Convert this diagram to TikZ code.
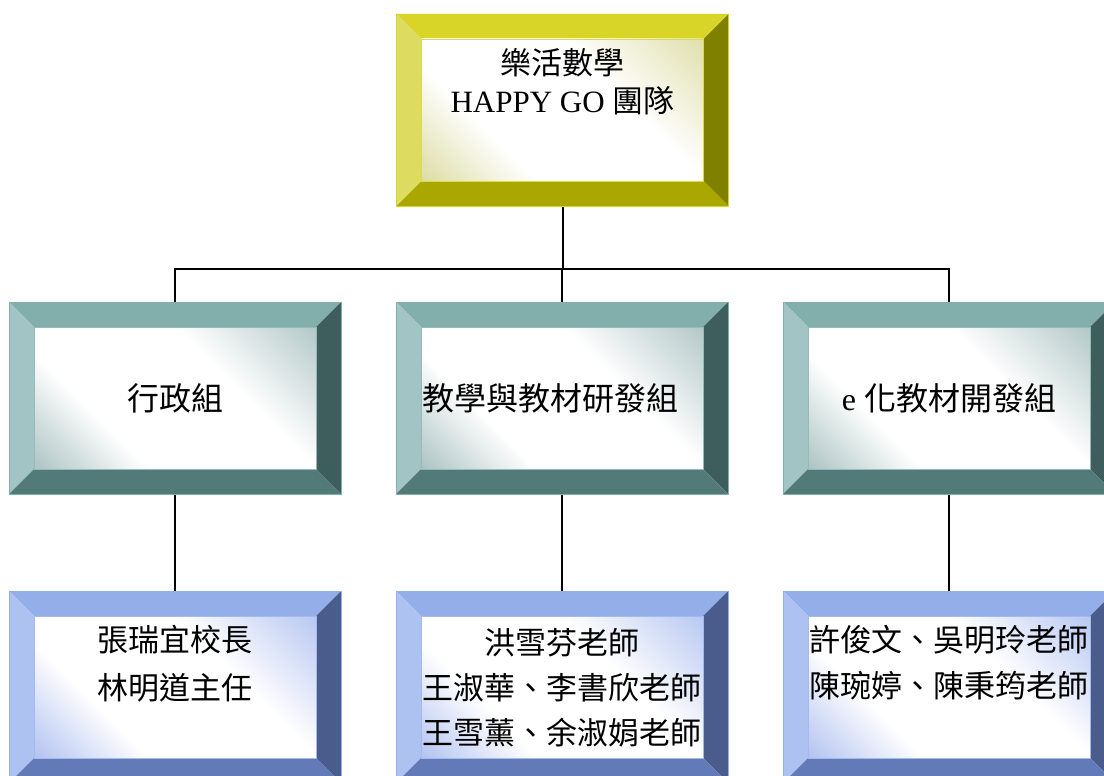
\documentclass[tikz,border=0pt]{standalone}
\usepackage{fontspec}
\setmainfont{Liberation Serif}
\newfontfamily\cjk{Noto Sans CJK TC}
\newfontfamily\lat{Liberation Serif}
\usetikzlibrary{calc}
\definecolor{yTop}{RGB}{216,212,40}
\definecolor{yLeft}{RGB}{222,220,96}
\definecolor{yRight}{RGB}{128,128,0}
\definecolor{yBot}{RGB}{170,168,0}
\definecolor{yTint}{RGB}{196,194,96}
\definecolor{tTop}{RGB}{130,174,172}
\definecolor{tLeft}{RGB}{162,196,196}
\definecolor{tRight}{RGB}{62,94,94}
\definecolor{tBot}{RGB}{82,122,120}
\definecolor{tTint}{RGB}{110,150,150}
\definecolor{bTop}{RGB}{148,174,234}
\definecolor{bLeft}{RGB}{174,194,242}
\definecolor{bRight}{RGB}{74,92,140}
\definecolor{bBot}{RGB}{98,122,184}
\definecolor{bTint}{RGB}{120,150,230}
\pgfdeclareverticalshading{yshade}{100bp}{color(0bp)=(yTint); color(34bp)=(white); color(62bp)=(white); color(100bp)=(yTint!85!white)}
\pgfdeclareverticalshading{tshade}{100bp}{color(0bp)=(tTint); color(34bp)=(white); color(62bp)=(white); color(100bp)=(tTint!85!white)}
\pgfdeclareverticalshading{bshade}{100bp}{color(0bp)=(bTint); color(34bp)=(white); color(62bp)=(white); color(100bp)=(bTint!85!white)}
\tikzset{
  boxnode/.style={rectangle, minimum width=332pt, minimum height=192pt, inner sep=0pt, outer sep=0pt},
  conn/.style={draw=black, line width=2pt},
  txt/.style={font=\cjk, align=center, inner sep=0pt, text=black}
}
\newcommand{\bevbox}[3]{%
  \node[boxnode] (#1) at (#2) {};
  \fill[fill=#3Top] (#1.north west) -- (#1.north east) -- ($(#1.north east)+(-25,25)$) -- ($(#1.north west)+(25,25)$) -- cycle;
  \fill[fill=#3Left] (#1.north west) -- ($(#1.north west)+(25,25)$) -- ($(#1.south west)+(25,-25)$) -- (#1.south west) -- cycle;
  \fill[fill=#3Right] (#1.north east) -- (#1.south east) -- ($(#1.south east)+(-25,-25)$) -- ($(#1.north east)+(-25,25)$) -- cycle;
  \fill[fill=#3Bot] (#1.south west) -- (#1.south east) -- ($(#1.south east)+(-25,-25)$) -- ($(#1.south west)+(25,-25)$) -- cycle;
  \shade[shading=#3shade, shading angle=-45] ($(#1.north west)+(25,25)$) rectangle ($(#1.south east)+(-25,-25)$);
  \draw[#3Top!85!white, line width=0.8pt] ($(#1.north west)+(25,25)$) rectangle ($(#1.south east)+(-25,-25)$);
  \draw[#3Top, line width=0.8pt] (#1.north west) rectangle (#1.south east);
}
\begin{document}
\begin{tikzpicture}[x=1pt, y=-1pt]
\useasboundingbox (0,0) rectangle (1104,776);
\clip (0,0) rectangle (1104,776);
\fill[white] (0,0) rectangle (1104,776);
\coordinate (bus) at (0,269);
% connectors
\node[boxnode] (top) at (562.5,110) {};
\node[boxnode] (m1) at (175,398) {};
\node[boxnode] (m2) at (562,398) {};
\node[boxnode] (m3) at (949,398) {};
\node[boxnode] (b1) at (175,687) {};
\node[boxnode] (b2) at (562,687) {};
\node[boxnode] (b3) at (949,687) {};
\draw[conn] (top.south) -- (top.south |- bus);
\draw[conn] (m1.north) |- (m3.north |- bus) -- (m3.north);
\draw[conn] (m2.north) -- (m2.north |- bus);
\draw[conn] (m1.south) -- (b1.north);
\draw[conn] (m2.south) -- (b2.north);
\draw[conn] (m3.south) -- (b3.north);
% boxes
\bevbox{top}{562.5,110}{y}
\bevbox{m1}{175,398}{t}
\bevbox{m2}{562,398}{t}
\bevbox{m3}{949,398}{t}
\bevbox{b1}{175,687}{b}
\bevbox{b2}{562,687}{b}
\bevbox{b3}{949,687}{b}
% texts
\node[txt, font=\cjk\fontsize{31}{38}\selectfont] (ttop) at (562.5,82) {樂活數學\\{\lat HAPPY GO }團隊};
\node[txt, font=\cjk\fontsize{32}{38}\selectfont] (tm1) at (175,398) {行政組};
\node[txt, font=\cjk\fontsize{32}{38}\selectfont] (tm2) at (550,398) {教學與教材研發組};
\node[txt, font=\cjk\fontsize{32}{38}\selectfont] (tm3) at (949,398) {{\lat e }化教材開發組};
\node[txt, font=\cjk\fontsize{31}{48}\selectfont] (tb1) at (175,664) {張瑞宜校長\\林明道主任};
\node[txt, font=\cjk\fontsize{31}{45}\selectfont] (tb2) at (562,688) {洪雪芬老師\\王淑華、李書欣老師\\王雪薰、余淑娟老師};
\node[txt, font=\cjk\fontsize{31}{46}\selectfont] (tb3) at (949,663) {許俊文、吳明玲老師\\陳琬婷、陳秉筠老師};
\end{tikzpicture}
\end{document}
